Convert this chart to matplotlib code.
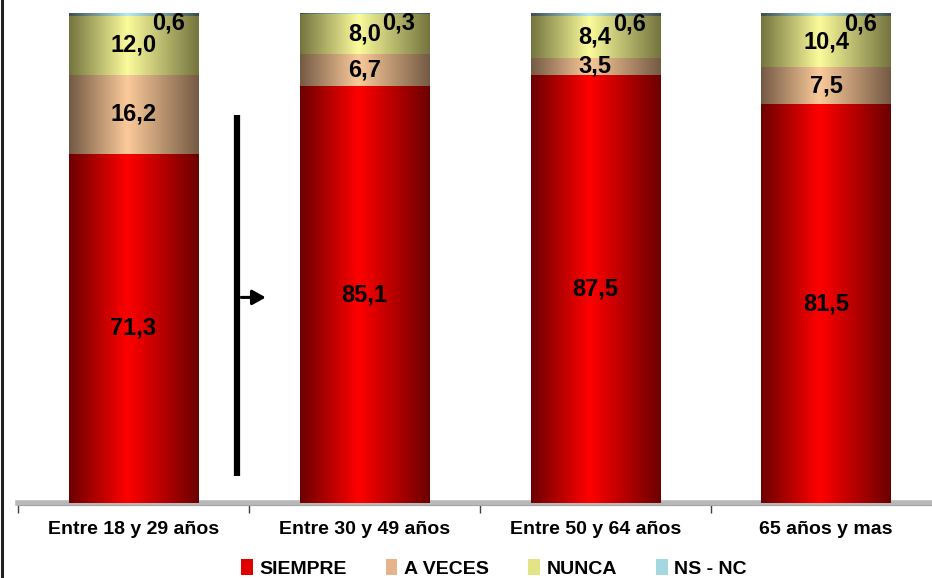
import numpy as np
import matplotlib.pyplot as plt
from matplotlib.colors import LinearSegmentedColormap
from matplotlib.patches import Patch
from matplotlib.lines import Line2D

plt.rcParams['font.family'] = ['Liberation Sans', 'DejaVu Sans']

categories = ['Entre 18 y 29 años', 'Entre 30 y 49 años', 'Entre 50 y 64 años', '65 años y mas']
series = ['SIEMPRE', 'A VECES', 'NUNCA', 'NS - NC']
siempre = [71.3, 85.1, 87.5, 81.5]
a_veces = [16.2, 6.7, 3.5, 7.5]
nunca = [12.0, 8.0, 8.4, 10.4]
ns_nc = [0.6, 0.3, 0.6, 0.6]

# dark edge / bright centre for the cylinder shading
shades = [('#6c0000', '#ff0000'), ('#745a44', '#fbca9a'),
          ('#74743f', '#fbfb9c'), ('#3e4c4e', '#b4ecf0')]
solid = ['#e00000', '#e6b48c', '#e4e486', '#a4d8de']


def shade_cmap(dark, light):
    return LinearSegmentedColormap.from_list(
        'sh', [(0, dark), (0.45, light), (1, dark)])


fig = plt.figure(figsize=(9.32, 5.78), dpi=100)
ax = fig.add_axes([18 / 932, 75 / 578, 914 / 932, 490 / 578])

x = np.arange(len(categories))
width = 0.56
grad = np.linspace(0, 1, 256).reshape(1, -1)
data = [siempre, a_veces, nunca, ns_nc]
bottom = np.zeros(len(categories))
for k, vals in enumerate(data):
    cmap = shade_cmap(*shades[k])
    for i, v in enumerate(vals):
        b = bottom[i]
        ax.imshow(grad, cmap=cmap, aspect='auto', interpolation='bicubic',
                  extent=(x[i] - width / 2, x[i] + width / 2, b, b + v), zorder=3)
        if k < 3:
            ax.text(x[i], b + v / 2, f'{v:.1f}'.replace('.', ','), ha='center',
                    va='center', fontsize=17, fontweight='bold', zorder=5)
        else:
            ax.text(x[i] + 0.15, b + v + 0.3, f'{v:.1f}'.replace('.', ','),
                    ha='center', va='top', fontsize=17, fontweight='bold', zorder=5)
    bottom += np.array(vals)

ax.set_xlim(-0.5, 3.459)
ax.set_ylim(0, 100.1)
ax.set_yticks([])
for s in ['top', 'right', 'left']:
    ax.spines[s].set_visible(False)
ax.spines['bottom'].set_color('#b8b8b8')
ax.spines['bottom'].set_linewidth(4)
ax.axhline(-0.35, color='#606060', lw=0.8, zorder=2, clip_on=False)

ax.set_xticks(x)
ax.set_xticklabels(categories, fontsize=14, fontweight='bold')
ax.tick_params(axis='x', which='major', length=0, pad=13)
ax.set_xticks(np.arange(-0.5, 3.5, 1), minor=True)
ax.tick_params(axis='x', which='minor', length=7, width=1, color='#404040')

# arrow marker between the first two bars
ax.plot([0.45, 0.45], [5.5, 79.2], color='black', lw=4.5, solid_capstyle='butt', zorder=4)
ax.annotate('', xy=(0.585, 42.0), xytext=(0.455, 42.0),
            arrowprops=dict(arrowstyle='-|>,head_length=0.8,head_width=0.45',
                            color='black', lw=2.2), zorder=4)

handles = [Patch(facecolor=solid[k], edgecolor='none') for k in range(4)]
fig.legend(handles, series, loc='lower center', bbox_to_anchor=(0.53, -0.03),
           ncol=4, frameon=False, handlelength=0.6, handleheight=0.9,
           handletextpad=0.35, columnspacing=2.0,
           prop={'size': 14, 'weight': 'bold'})

fig.add_artist(Line2D([2 / 932, 2 / 932], [0, 1], color='#202020', lw=2.2,
                      transform=fig.transFigure))

fig.savefig('out.png', dpi=100)
